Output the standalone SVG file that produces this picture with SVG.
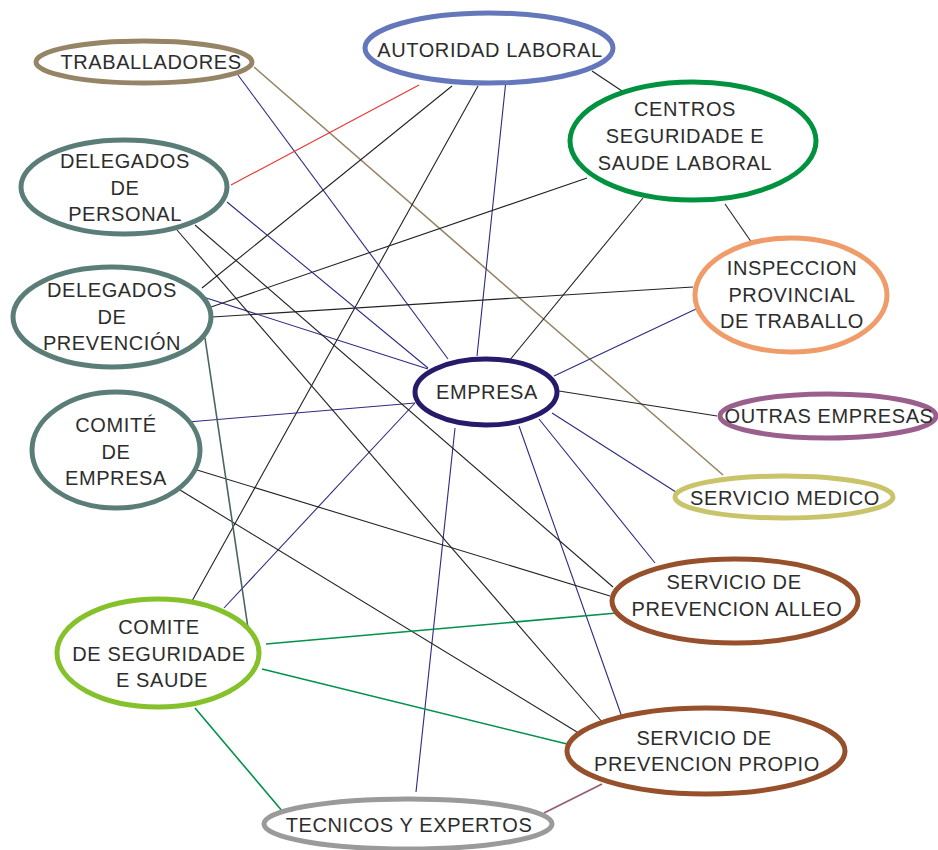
<svg xmlns="http://www.w3.org/2000/svg" width="938" height="850" viewBox="0 0 938 850">
<style>
.n{fill:#fff;stroke-width:5}
.t{font-family:"Liberation Sans",Arial,sans-serif;font-size:20px;letter-spacing:0.6px;fill:#2d2d2d;text-anchor:middle}
.c line{stroke-width:1.1;fill:none}
.k{stroke:#222}
.v{stroke:#2e2a82}
.r{stroke:#e8332f}
.b{stroke:#968466;stroke-width:1.6 !important}
.g{stroke:#00924a;stroke-width:1.6 !important}
.s{stroke:#4a6464;stroke-width:1.6 !important}
.m{stroke:#955a78;stroke-width:1.6 !important}
</style>
<rect width="938" height="850" fill="#fff"/>
<g id="connectors" class="c">
<line class="v" x1="238" y1="75" x2="448" y2="359"/>
<line class="b" x1="254" y1="67" x2="723" y2="475"/>
<line class="r" x1="231" y1="185" x2="419" y2="85"/>
<line class="k" x1="452" y1="86" x2="202" y2="288"/>
<line class="k" x1="478" y1="86" x2="192" y2="601"/>
<line class="v" x1="506" y1="80" x2="477" y2="356"/>
<line class="k" x1="592" y1="71" x2="625" y2="93"/>
<line class="k" x1="587" y1="178" x2="211" y2="307"/>
<line class="k" x1="643" y1="198" x2="509" y2="361"/>
<line class="k" x1="725" y1="204" x2="752" y2="243"/>
<line class="k" x1="693" y1="287" x2="212" y2="317"/>
<line class="v" x1="696" y1="309" x2="554" y2="376"/>
<line class="k" x1="559" y1="391" x2="717" y2="416"/>
<line class="v" x1="552" y1="413" x2="679" y2="494"/>
<line class="v" x1="539" y1="419" x2="655" y2="563"/>
<line class="v" x1="519" y1="426" x2="623" y2="720"/>
<line class="v" x1="455" y1="428" x2="416" y2="792"/>
<line class="v" x1="415" y1="403" x2="224" y2="608"/>
<line class="v" x1="188" y1="422" x2="415" y2="403"/>
<line class="v" x1="197" y1="295" x2="428" y2="369"/>
<line class="v" x1="227" y1="202" x2="428" y2="368"/>
<line class="k" x1="195" y1="225" x2="613" y2="587"/>
<line class="k" x1="177" y1="230" x2="603" y2="723"/>
<line class="k" x1="197" y1="470" x2="610" y2="596"/>
<line class="k" x1="180" y1="490" x2="577" y2="732"/>
<line class="s" x1="205" y1="338" x2="248" y2="628"/>
<line class="g" x1="266" y1="644" x2="617" y2="613"/>
<line class="g" x1="262" y1="669" x2="567" y2="744"/>
<line class="g" x1="195" y1="708" x2="283" y2="812"/>
<line class="m" x1="602" y1="784" x2="544" y2="813"/>
</g>
<g id="traballadores"><ellipse class="n" cx="144" cy="62" rx="108" ry="21" stroke="#968466"/><text class="t" x="151" y="69">TRABALLADORES</text></g>
<g id="autoridad"><ellipse class="n" cx="489" cy="48" rx="124" ry="35" stroke="#6577bb"/><text class="t" x="490" y="57">AUTORIDAD LABORAL</text></g>
<g id="centros"><ellipse class="n" cx="693" cy="141" rx="123" ry="59" stroke="#00923f"/><text class="t" x="685" y="116">CENTROS</text><text class="t" x="685" y="143">SEGURIDADE E</text><text class="t" x="685" y="170">SAUDE LABORAL</text></g>
<g id="delegados-personal"><ellipse class="n" cx="124" cy="187" rx="103" ry="47" stroke="#5b7d78"/><text class="t" x="125" y="168">DELEGADOS</text><text class="t" x="125" y="195">DE</text><text class="t" x="125" y="221">PERSONAL</text></g>
<g id="inspeccion"><ellipse class="n" cx="791" cy="295" rx="96" ry="57" stroke="#f09c6a"/><text class="t" x="792" y="275">INSPECCION</text><text class="t" x="792" y="302">PROVINCIAL</text><text class="t" x="792" y="328">DE TRABALLO</text></g>
<g id="delegados-prevencion"><ellipse class="n" cx="112" cy="317" rx="99" ry="50" stroke="#5b7d78"/><text class="t" x="112" y="297">DELEGADOS</text><text class="t" x="112" y="324">DE</text><text class="t" x="112" y="350">PREVENCIÓN</text></g>
<g id="empresa"><ellipse class="n" cx="486" cy="392" rx="71" ry="33" stroke="#281a6b" stroke-width="5.5"/><text class="t" x="487" y="399">EMPRESA</text></g>
<g id="outras-empresas"><ellipse class="n" cx="828" cy="416" rx="108" ry="22" stroke="#9b5f8e"/><text class="t" x="829" y="423">OUTRAS EMPRESAS</text></g>
<g id="comite-empresa"><ellipse class="n" cx="116" cy="450" rx="84" ry="58" stroke="#5b7d78"/><text class="t" x="116" y="432">COMITÉ</text><text class="t" x="116" y="459">DE</text><text class="t" x="116" y="485">EMPRESA</text></g>
<g id="servicio-medico"><ellipse class="n" cx="784" cy="497" rx="109" ry="21" stroke="#c9c46a"/><text class="t" x="785" y="505">SERVICIO MEDICO</text></g>
<g id="servicio-alleo"><ellipse class="n" cx="735" cy="601" rx="123" ry="42" stroke="#97502c"/><text class="t" x="734" y="589">SERVICIO DE</text><text class="t" x="737" y="616">PREVENCION ALLEO</text></g>
<g id="comite-seguridade"><ellipse class="n" cx="158" cy="653" rx="101" ry="54" stroke="#84c12a"/><text class="t" x="159" y="634">COMITE</text><text class="t" x="159" y="661">DE SEGURIDADE</text><text class="t" x="162" y="687">E SAUDE</text></g>
<g id="servicio-propio"><ellipse class="n" cx="706" cy="751" rx="139" ry="43" stroke="#97502c"/><text class="t" x="704" y="745">SERVICIO DE</text><text class="t" x="707" y="771">PREVENCION PROPIO</text></g>
<g id="tecnicos"><ellipse class="n" cx="408" cy="824" rx="144" ry="25" stroke="#9a9a9a"/><text class="t" x="409" y="832">TECNICOS Y EXPERTOS</text></g>
</svg>
